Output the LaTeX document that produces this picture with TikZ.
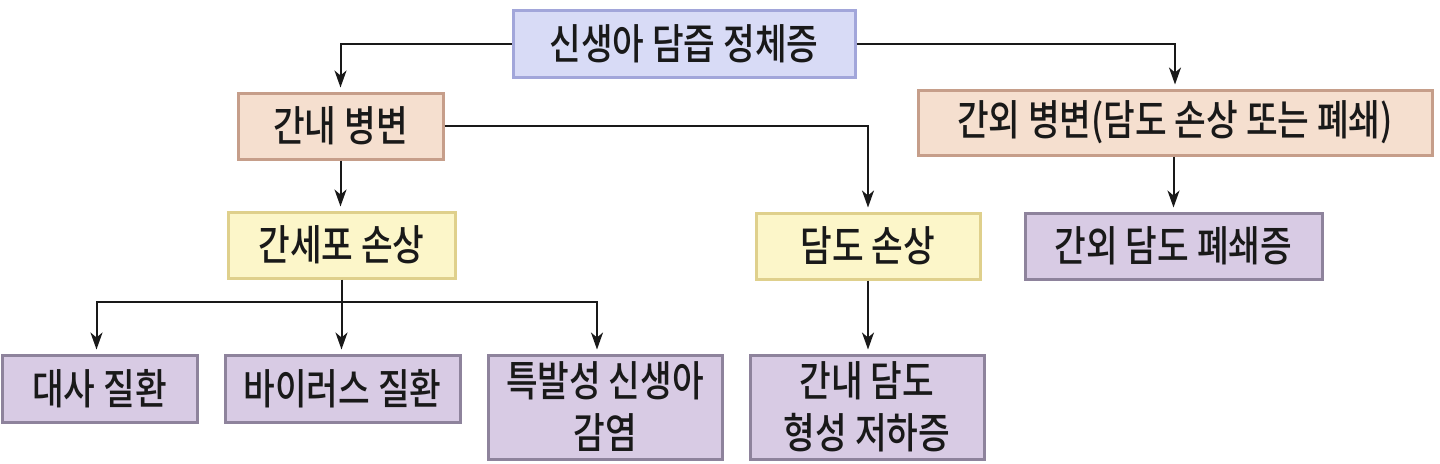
\documentclass[tikz,border=0pt]{standalone}
\usepackage{fontspec}
\newfontfamily\krfont[FakeStretch=0.82, UprightFont={* Medium}]{Noto Sans CJK KR}
\usetikzlibrary{arrows.meta}
\definecolor{topfill}{HTML}{D8DBF6}
\definecolor{topdraw}{HTML}{A2A6DA}
\definecolor{peachfill}{HTML}{F5DFCF}
\definecolor{peachdraw}{HTML}{C69E8A}
\definecolor{yelfill}{HTML}{FCF6C9}
\definecolor{yeldraw}{HTML}{DFD08C}
\definecolor{lavfill}{HTML}{D8CBE4}
\definecolor{lavdraw}{HTML}{8E839C}
\tikzset{
  box/.style={draw, line width=1.5pt, inner sep=0pt, align=center,
    font=\krfont\fontsize{21pt}{26pt}\selectfont, text=black!90},
  topbox/.style={box, fill=topfill, draw=topdraw},
  peachbox/.style={box, fill=peachfill, draw=peachdraw},
  yelbox/.style={box, fill=yelfill, draw=yeldraw},
  lavbox/.style={box, fill=lavfill, draw=lavdraw},
  arr/.style={draw=black!90, line width=1pt, shorten >=2pt, -{Stealth[length=8.5pt,width=6pt,inset=2.5pt]}},
  ln/.style={draw=black!90, line width=1pt}
}
\begin{document}
\begin{tikzpicture}[x=0.5pt,y=-0.5pt]
\useasboundingbox (0,0) rectangle (1440,463);
\node[topbox, minimum width=171pt, minimum height=33.5pt] (top) at (684,43.5) {신생아 담즙 정체증};
\node[peachbox, minimum width=102.5pt, minimum height=33pt] (ganae) at (340.5,126) {간내 병변};
\node[peachbox, minimum width=257pt, minimum height=32.5pt] (ganoe) at (1175,122.5) {간외 병변(담도 손상 또는 폐쇄)};
\node[yelbox, minimum width=113.5pt, minimum height=33pt] (gansepo) at (341.5,245) {간세포 손상};
\node[yelbox, minimum width=112pt, minimum height=33pt] (damdo) at (868,246) {담도 손상};
\node[lavbox, minimum width=148.5pt, minimum height=33pt] (ganoedamdo) at (1173.5,246) {간외 담도 폐쇄증};
\node[lavbox, minimum width=97.5pt, minimum height=33.5pt] (daesa) at (99.5,388.5) {대사 질환};
\node[lavbox, minimum width=117.5pt, minimum height=33.5pt] (virus) at (342.5,388.5) {바이러스 질환};
\node[lavbox, minimum width=117pt, minimum height=52pt] (teuk) at (605,407) {특발성 신생아\\감염};
\node[lavbox, minimum width=117pt, minimum height=52pt] (ganaedamdo) at (867,407) {간내 담도\\형성 저하증};
\coordinate (split) at (341.5,302);
\draw[arr] (top.west) -| (ganae.north);
\draw[arr] (top.east) -| (ganoe.north);
\draw[arr] (ganae.south) -- (ganae.south |- gansepo.north);
\draw[arr] (ganae.east) -| (damdo.north);
\draw[arr] (ganoe.south -| ganoedamdo.north) -- (ganoedamdo.north);
\draw[ln] (gansepo.south) -- (split);
\draw[arr] (split) -| ([xshift=-1.5pt]daesa.north);
\draw[arr] (split) -| (virus.north -| split);
\draw[arr] (split) -| ([xshift=-4pt]teuk.north);
\draw[arr] (damdo.south) -- (damdo.south |- ganaedamdo.north);
\end{tikzpicture}
\end{document}
